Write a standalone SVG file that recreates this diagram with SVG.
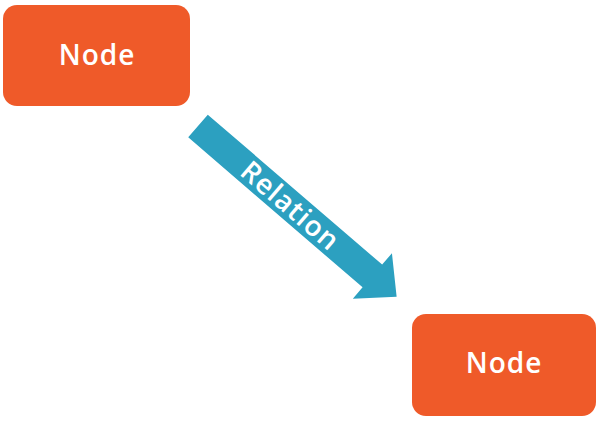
<svg xmlns="http://www.w3.org/2000/svg" width="602" height="423" viewBox="0 0 602 423">
<style>
.node{fill:#EF5A29}
.lbl{font-family:"Open Sans","Noto Sans",sans-serif;font-weight:600;font-size:28px;letter-spacing:1px;fill:#fff;text-anchor:middle}
.arrow{fill:#2CA0C0}
</style>
<rect width="602" height="423" fill="#fff"/>
<g id="node1"><rect class="node" x="3" y="5" width="187" height="101" rx="14"/><text class="lbl" x="97" y="65">Node</text></g>
<g id="node2"><rect class="node" x="412" y="314" width="184" height="102" rx="14"/><text class="lbl" x="504" y="373">Node</text></g>
<g id="connectors">
<g transform="translate(198,126) rotate(40.7)">
<polygon class="arrow" points="0,-15 230,-15 230,-30 262,0 230,30 230,15 0,15"/>
<text class="lbl" x="122" y="10" font-size="27px" letter-spacing="0.5">Relation</text>
</g>
</g>
</svg>
